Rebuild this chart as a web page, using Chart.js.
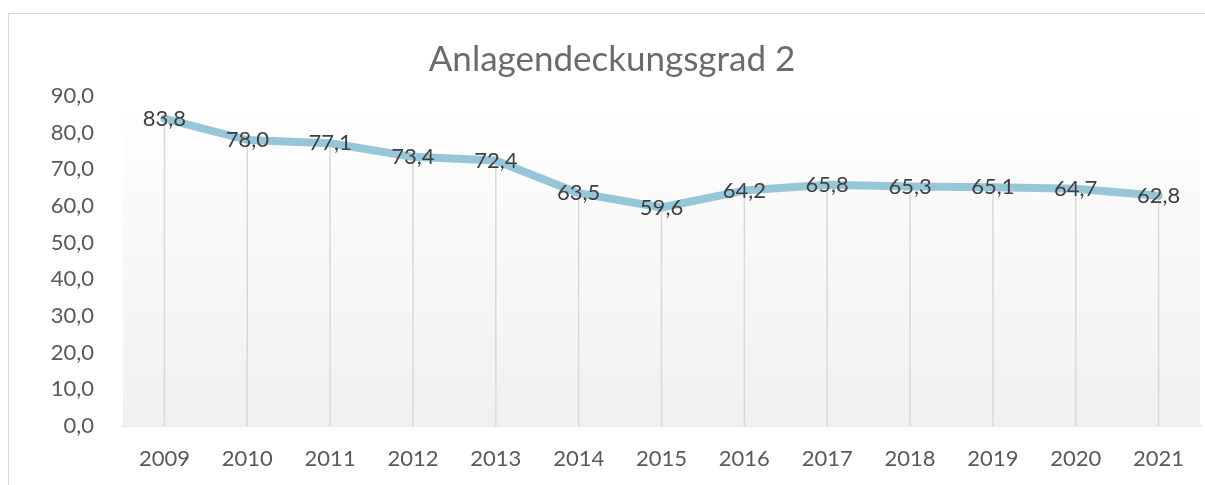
<!DOCTYPE html>
<html>
<head>
<meta charset="utf-8">
<script src="https://cdn.jsdelivr.net/npm/chart.js@4/dist/chart.umd.min.js"></script>
<style>
  body { margin: 0; background: #fff; }
  #frame { position: absolute; left: 8px; top: 13px; width: 1300px; height: 600px;
           border-left: 1px solid #d9d9d9; border-top: 1px solid #d9d9d9; }
  #wrap { position: absolute; left: 0; top: 0; width: 1205px; height: 485px; }
</style>
</head>
<body>
<div id="frame"></div>
<div id="wrap"><canvas id="myChart"></canvas></div>
<script>
const years = ['2009', '2010', '2011', '2012', '2013', '2014', '2015', '2016', '2017', '2018', '2019', '2020', '2021'];
const deckungsgrad = [83.8, 78.0, 77.1, 73.4, 72.4, 63.5, 59.6, 64.2, 65.8, 65.3, 65.1, 64.7, 62.8];
const yTicks = [0, 10, 20, 30, 40, 50, 60, 70, 80, 90];

const fmt = (v) => v.toFixed(1).replace('.', ',');
const FONT = 'Lato, "Open Sans", sans-serif';

// plot area gradient + drop lines below the line
const backdrop = {
  id: 'backdrop',
  beforeDatasetsDraw(chart) {
    const { ctx, chartArea: a } = chart;
    const g = ctx.createLinearGradient(0, a.top, 0, a.bottom);
    g.addColorStop(0, '#ffffff');
    g.addColorStop(1, '#f0f0f0');
    ctx.save();
    ctx.fillStyle = g;
    ctx.fillRect(a.left, a.top, a.right - a.left, a.bottom - a.top);

    ctx.strokeStyle = '#d9d9d9';
    ctx.lineWidth = 1.5;
    chart.getDatasetMeta(0).data.forEach((pt) => {
      ctx.beginPath();
      ctx.moveTo(pt.x, pt.y);
      ctx.lineTo(pt.x, a.bottom);
      ctx.stroke();
    });
    ctx.restore();
  }
};

// value labels centred on the points
const valueLabels = {
  id: 'valueLabels',
  afterDatasetsDraw(chart) {
    const { ctx } = chart;
    ctx.save();
    ctx.font = '22px ' + FONT;
    ctx.fillStyle = '#404040';
    ctx.textAlign = 'center';
    ctx.textBaseline = 'middle';
    chart.getDatasetMeta(0).data.forEach((pt, i) => {
      ctx.fillText(fmt(deckungsgrad[i]), pt.x, pt.y);
    });
    ctx.restore();
  }
};

const ctx = document.getElementById('myChart').getContext('2d');

new Chart(ctx, {
  type: 'line',
  data: {
    labels: years,
    datasets: [{
      label: 'Anlagendeckungsgrad 2',
      data: deckungsgrad,
      borderColor: '#97c6d8',
      borderWidth: 8,
      borderJoinStyle: 'round',
      borderCapStyle: 'round',
      pointRadius: 0,
      tension: 0,
      fill: false
    }]
  },
  options: {
    responsive: true,
    maintainAspectRatio: false,
    animation: false,
    layout: { padding: { left: 24, right: 5, top: 0, bottom: 0 } },
    plugins: {
      legend: { display: false },
      tooltip: { enabled: false },
      title: {
        display: true,
        text: 'Anlagendeckungsgrad 2',
        color: '#6b6b6b',
        font: { family: FONT, size: 35, weight: 'normal' },
        padding: { top: 39, bottom: 15 }
      }
    },
    scales: {
      x: {
        offset: true,
        grid: { display: false, drawTicks: false },
        border: { display: true, color: '#d9d9d9', width: 1.5 },
        ticks: { color: '#595959', font: { family: FONT, size: 22 }, padding: 20 },
        afterFit(scale) { scale.height = 59; }
      },
      y: {
        min: 0,
        max: 90,
        afterBuildTicks(scale) { scale.ticks = yTicks.map((v) => ({ value: v })); },
        grid: { display: false, drawTicks: false },
        border: { display: false },
        ticks: {
          color: '#595959',
          font: { family: FONT, size: 22 },
          padding: 29,
          callback: (v) => fmt(v)
        },
        afterFit(scale) { scale.width = 99; }
      }
    }
  },
  plugins: [backdrop, valueLabels]
});
</script>
</body>
</html>
